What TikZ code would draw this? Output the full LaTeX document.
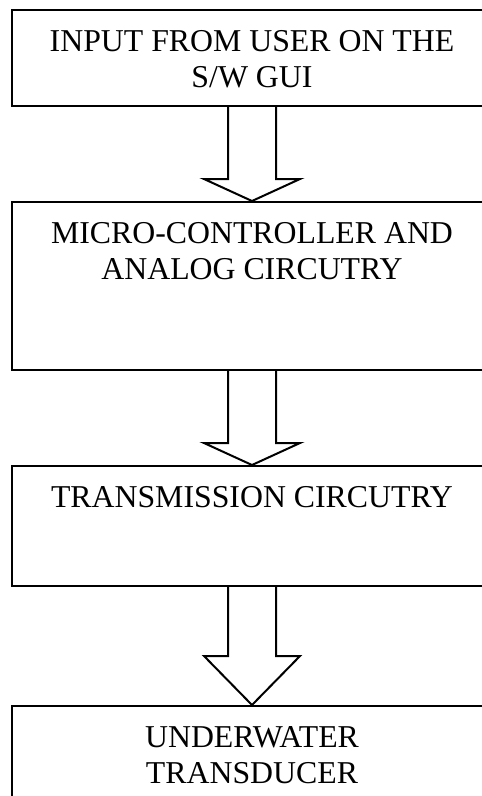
\documentclass[tikz,border=0pt]{standalone}
\usepackage{fontspec}
\setmainfont{Liberation Serif}
\begin{document}
\begin{tikzpicture}[x=1pt,y=-1pt,
  boxst/.style={draw=black, line width=2pt, rectangle, inner sep=0pt, minimum width=480pt},
  txt/.style={inner sep=0pt, align=center, anchor=base, font=\fontsize{31.8}{36.6}\selectfont},
  blockarrow/.style={draw=black, line width=2pt, line join=miter}]
\useasboundingbox (0,0) rectangle (482,796);
\clip (0,0) rectangle (482,796);
\fill[white] (0,0) rectangle (482,796);
% boxes
\node[boxst, minimum height=96pt]  (b1) at (252,58)  {};
\node[boxst, minimum height=168pt] (b2) at (252,286) {};
\node[boxst, minimum height=120pt] (b3) at (252,526) {};
\node[boxst, minimum height=124pt] (b4) at (252,768) {};
% texts (anchor base = baseline of the last line)
\node[txt] (t1) at (252,87.6)  {INPUT FROM USER ON THE\\S/W GUI};
\node[txt] (t2) at (252,279.6) {MICRO-CONTROLLER AND\\ANALOG CIRCUTRY};
\node[txt] (t3) at (252,507)   {TRANSMISSION CIRCUTRY};
\node[txt] (t4) at (252,783.6) {UNDERWATER\\TRANSDUCER};
% block arrows
\draw[blockarrow] ([xshift=-24pt]b1.south) -- ([xshift=-24pt,yshift=-72pt]b1.south)
  -- ([xshift=-48pt,yshift=-72pt]b1.south) -- (b2.north)
  -- ([xshift=48pt,yshift=-72pt]b1.south) -- ([xshift=24pt,yshift=-72pt]b1.south)
  -- ([xshift=24pt]b1.south);
\draw[blockarrow] ([xshift=-24pt]b2.south) -- ([xshift=-24pt,yshift=-72pt]b2.south)
  -- ([xshift=-48pt,yshift=-72pt]b2.south) -- (b3.north)
  -- ([xshift=48pt,yshift=-72pt]b2.south) -- ([xshift=24pt,yshift=-72pt]b2.south)
  -- ([xshift=24pt]b2.south);
\draw[blockarrow] ([xshift=-24pt]b3.south) -- ([xshift=-24pt,yshift=-69pt]b3.south)
  -- ([xshift=-48pt,yshift=-69pt]b3.south) -- (b4.north)
  -- ([xshift=48pt,yshift=-69pt]b3.south) -- ([xshift=24pt,yshift=-69pt]b3.south)
  -- ([xshift=24pt]b3.south);
\end{tikzpicture}
\end{document}
